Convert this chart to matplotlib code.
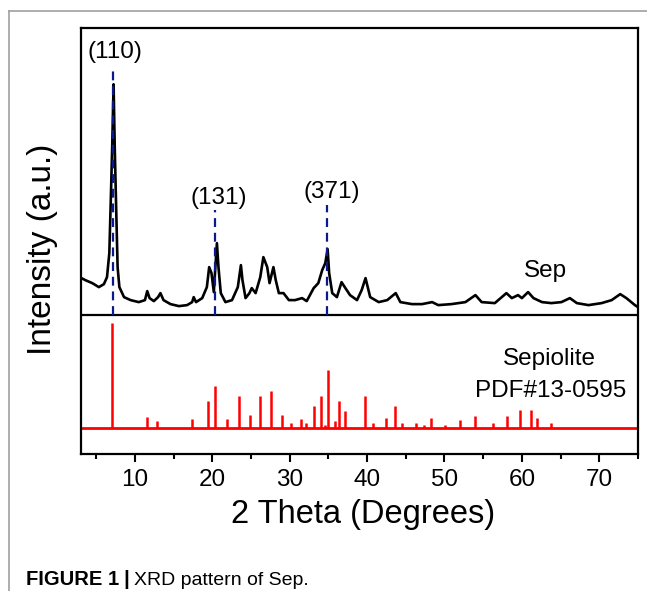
import numpy as np
import matplotlib
matplotlib.use("Agg")
import matplotlib.pyplot as plt
from matplotlib.lines import Line2D

plt.rcParams['font.family'] = ['Liberation Sans', 'DejaVu Sans']

########
# Measured Sep pattern (2 theta in degrees, intensity in a.u.)
two_theta = [2.86, 3.6, 4.5, 5.35, 6.0, 6.4, 6.7, 6.9, 7.07, 7.25, 7.4, 7.6, 7.77,
             8.0, 8.6, 9.45, 10.5, 11.3, 11.6, 11.9, 12.45, 13.0, 13.3, 13.7, 14.6,
             15.7, 16.75, 17.4, 17.6, 17.9, 18.7, 19.3, 19.6, 19.9, 20.2, 20.4, 20.6,
             20.8, 21.1, 21.7, 22.55, 23.3, 23.7, 23.9, 24.3, 24.8, 25.1, 25.6, 26.2,
             26.6, 27.1, 27.4, 27.9, 28.2, 28.6, 29.2, 29.9, 30.7, 31.6, 32.2, 33.1,
             33.7, 34.2, 34.6, 34.9, 35.1, 35.5, 36.1, 36.7, 37.2, 37.8, 38.7, 39.3,
             39.8, 40.4, 41.5, 42.6, 43.7, 44.3, 45.8, 47.1, 48.4, 49.2, 50.9, 52.7,
             54.0, 54.8, 56.5, 58.0, 58.7, 59.5, 60.0, 60.8, 61.5, 62.6, 63.8, 65.1,
             66.2, 67.1, 68.6, 70.3, 71.6, 72.7, 73.5, 74.6, 75.0]
intensity = [177, 174, 171, 167, 170, 177, 201, 257, 307, 370, 307, 241, 187,
             167, 157, 154, 152, 154, 163, 156, 153, 157, 161, 154, 150,
             148, 149, 152, 157, 152, 156, 167, 187, 181, 162, 187, 211,
             187, 161, 152, 154, 167, 189, 174, 156, 161, 166, 161, 177,
             197, 187, 171, 187, 174, 161, 161, 154, 154, 156, 153, 166,
             171, 184, 191, 205, 181, 161, 157, 172, 166, 159, 154, 164,
             176, 157, 152, 154, 161, 152, 150, 150, 152, 149, 150, 152,
             159, 152, 151, 161, 156, 159, 156, 162, 156, 152, 151, 152,
             156, 151, 149, 151, 154, 160, 156, 149, 147]

# Reference card Sepiolite PDF#13-0595 (positions and relative heights)
ref_pos = [7.08, 11.6, 12.9, 17.4, 19.5, 20.4, 21.9, 23.5, 24.9, 26.2, 27.6,
           29.0, 30.2, 31.4, 32.1, 33.1, 34.0, 34.5, 34.9, 35.9, 36.4, 37.1,
           39.7, 40.7, 42.4, 43.6, 44.5, 46.3, 47.3, 48.3, 50.1, 52.0, 53.9,
           56.3, 58.1, 59.8, 61.2, 62.0, 63.7]
ref_int = [105, 11, 7, 9, 27, 42, 9, 32, 13, 32, 37,
           13, 5, 9, 5, 22, 32, 3, 58, 7, 27, 17,
           32, 5, 10, 22, 5, 5, 3, 10, 3, 8, 12,
           5, 12, 18, 18, 10, 5]

# Indexed reflections
hkl_pos = [7.2, 20.4, 34.8]
hkl_top = [387, 244, 249]
hkl_labels = ['(110)', '(131)', '(371)']
hkl_text_xy = [(7.4, 402), (20.8, 256), (35.4, 262)]

divider = 139   # boundary between the two panels
ref_base = 26   # baseline of the stick pattern

########
fig = plt.figure(figsize=(6.47, 5.91), dpi=100)
ax = fig.add_axes([0.1247, 0.2318, 0.8614, 0.7203])

ax.plot(two_theta, intensity, color='black', lw=1.9, zorder=3)

ax.axhline(ref_base, color='red', lw=2.0, zorder=2)
ax.vlines(ref_pos, ref_base, np.array(ref_int) + ref_base, color='red', lw=1.8, zorder=2)

ax.axhline(divider, color='black', lw=1.6, zorder=4)

for xp, yt, lab, (tx, ty) in zip(hkl_pos, hkl_top, hkl_labels, hkl_text_xy):
    ax.plot([xp, xp], [divider, yt], color='#0a1a8c', lw=1.6,
            dashes=(4, 2.6), zorder=5)
    ax.text(tx, ty, lab, fontsize=17.5, ha='center', va='center')

ax.text(63.1, 177, 'Sep', fontsize=17.5, ha='center', va='baseline')
ax.text(63.6, 89, 'Sepiolite', fontsize=17.5, ha='center', va='baseline')
ax.text(63.7, 57, 'PDF#13-0595', fontsize=17.5, ha='center', va='baseline')

ax.set_xlim(3, 75)
ax.set_ylim(0, 426)
ax.set_xticks(np.arange(10, 71, 10))
ax.set_xticks(np.arange(5, 76, 5), minor=True)
ax.set_yticks([])
ax.tick_params(axis='x', which='major', length=6, width=1.5, labelsize=17.5, pad=5)
ax.tick_params(axis='x', which='minor', length=3.5, width=1.5)
for sp in ax.spines.values():
    sp.set_linewidth(1.6)

ax.set_xlabel('2 Theta (Degrees)', fontsize=23.5)
ax.xaxis.set_label_coords(0.507, -0.105)
ax.set_ylabel('Intensity (a.u.)', fontsize=24)
ax.yaxis.set_label_coords(-0.041, 0.482)

# page frame lines and caption
fig.add_artist(Line2D([9 / 647, 9 / 647], [0, 1 - 10.7 / 591], color='#a0a0a0', lw=1.2))
fig.add_artist(Line2D([9 / 647, 1], [1 - 10.7 / 591, 1 - 10.7 / 591], color='#a0a0a0', lw=1.2))
fig.text(26 / 647, 1 - 585 / 591, 'FIGURE 1', fontsize=14.5, fontweight='bold',
         ha='left', va='baseline')
fig.text(123.5 / 647, 1 - 585 / 591, '|', fontsize=15, fontweight='bold',
         ha='left', va='baseline')
fig.text(134 / 647, 1 - 585 / 591, 'XRD pattern of Sep.', fontsize=14,
         ha='left', va='baseline')

fig.savefig('out.png', dpi=100)
